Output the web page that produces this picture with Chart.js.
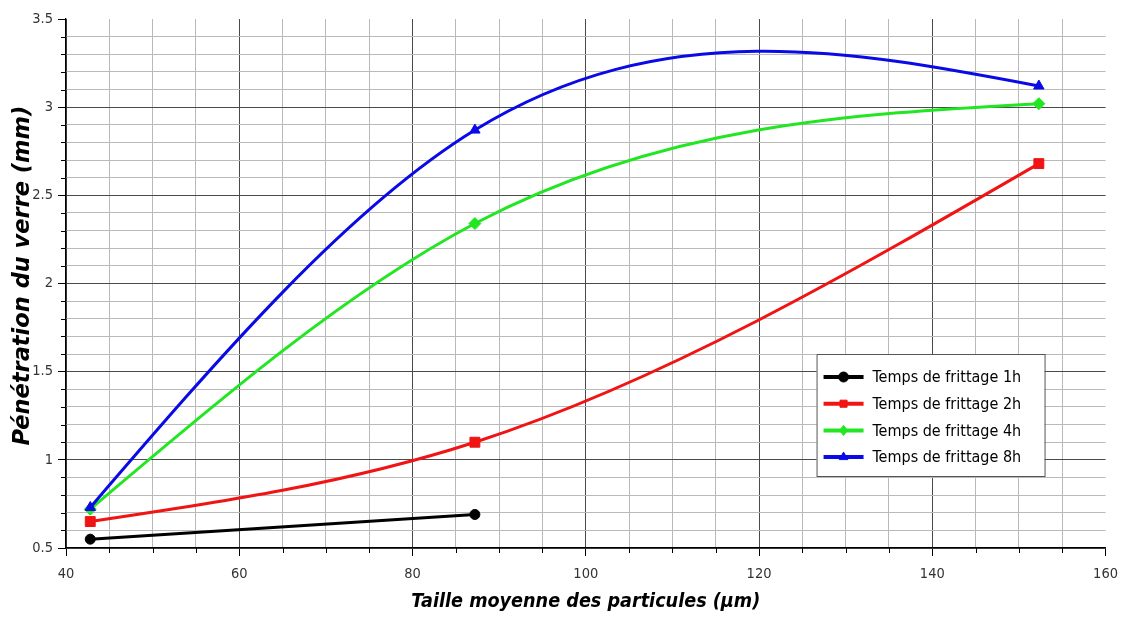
<!DOCTYPE html>
<html>
<head>
<meta charset="utf-8">
<title>Pénétration du verre</title>
<script src="https://cdn.jsdelivr.net/npm/chart.js@4.4.1/dist/chart.umd.min.js"></script>
<style>
  html, body { margin: 0; padding: 0; background: #ffffff; }
  #wrap { width: 1128px; height: 619px; position: relative; }
</style>
</head>
<body>
<div id="wrap"><canvas id="chart" width="1128" height="619"></canvas></div>
<script>
// Mean particle size (µm) for each measurement
const sizes = [42.8, 87.2, 152.3];
const sizes1h = [42.8, 87.2];

// Glass penetration depth (mm) for each sintering time
const pen1h = [0.55, 0.69];
const pen2h = [0.65, 1.10, 2.68];
const pen4h = [0.72, 2.34, 3.02];
const pen8h = [0.73, 2.87, 3.12];

const seriesLabels = [
  'Temps de frittage 1h',
  'Temps de frittage 2h',
  'Temps de frittage 4h',
  'Temps de frittage 8h'
];

// Labelled ticks on each axis
const xTickLabels = [40, 60, 80, 100, 120, 140, 160];
const yTickLabels = [0.5, 1, 1.5, 2, 2.5, 3, 3.5];

const xTitle = 'Taille moyenne des particules (µm)';
const yTitle = 'Pénétration du verre (mm)';

const FONT = "'DejaVu Sans Condensed', 'DejaVu Sans', sans-serif";
const WIDE_FONT = "'DejaVu Sans', sans-serif";
const MINOR = '#b9b9b9';
const MAJOR = '#4a4a4a';

const isXMajor = v => xTickLabels.some(t => Math.abs(t - v) < 1e-6);
const isYMajor = v => yTickLabels.some(t => Math.abs(t - v) < 1e-6);

const toPoints = (xs, ys) => xs.map((x, i) => ({ x: x, y: ys[i] }));

function series(label, xs, ys, color, style, radius, order) {
  return {
    label: label,
    data: toPoints(xs, ys),
    borderColor: color,
    backgroundColor: color,
    borderWidth: 3,
    pointStyle: style,
    pointRadius: radius,
    pointHoverRadius: radius,
    pointBackgroundColor: color,
    pointBorderColor: color,
    pointBorderWidth: 1,
    tension: 0.4,
    capBezierPoints: false,
    fill: false,
    order: order
  };
}

// First derivatives of a natural cubic spline through (xs, ys)
function naturalSlopes(xs, ys) {
  const n = xs.length;
  const h = [], s = [];
  for (let i = 0; i < n - 1; i++) {
    h.push(xs[i + 1] - xs[i]);
    s.push((ys[i + 1] - ys[i]) / h[i]);
  }
  const M = new Array(n).fill(0);
  if (n > 2) {
    const a = [], b = [], c = [], d = [];
    for (let i = 1; i < n - 1; i++) {
      a.push(h[i - 1]);
      b.push(2 * (h[i - 1] + h[i]));
      c.push(h[i]);
      d.push(6 * (s[i] - s[i - 1]));
    }
    const m = b.length;
    for (let i = 1; i < m; i++) {
      const w = a[i] / b[i - 1];
      b[i] -= w * c[i - 1];
      d[i] -= w * d[i - 1];
    }
    const sol = new Array(m);
    sol[m - 1] = d[m - 1] / b[m - 1];
    for (let i = m - 2; i >= 0; i--) sol[i] = (d[i] - c[i] * sol[i + 1]) / b[i];
    for (let i = 0; i < m; i++) M[i + 1] = sol[i];
  }
  const slopes = [];
  for (let i = 0; i < n - 1; i++) slopes.push(s[i] - h[i] * (2 * M[i] + M[i + 1]) / 6);
  slopes.push(s[n - 2] + h[n - 2] * (M[n - 2] + 2 * M[n - 1]) / 6);
  return slopes;
}

// Replace the line's bezier handles with those of a natural cubic spline
const naturalSpline = {
  id: 'naturalSpline',
  beforeDatasetDraw(chart, args) {
    const meta = args.meta;
    const line = meta.dataset;
    const pts = meta.data;
    if (!line || pts.length < 2) return;
    line.updateControlPoints(chart.chartArea, meta.indexAxis);
    const data = chart.data.datasets[args.index].data;
    const xv = data.map(p => p.x);
    const yv = data.map(p => p.y);
    const m = naturalSlopes(xv, yv);
    const xs = chart.scales.x, ys = chart.scales.y;
    for (let i = 0; i < pts.length - 1; i++) {
      const h = xv[i + 1] - xv[i];
      pts[i].cp2x = xs.getPixelForValue(xv[i] + h / 3);
      pts[i].cp2y = ys.getPixelForValue(yv[i] + m[i] * h / 3);
      pts[i + 1].cp1x = xs.getPixelForValue(xv[i + 1] - h / 3);
      pts[i + 1].cp1y = ys.getPixelForValue(yv[i + 1] - m[i + 1] * h / 3);
    }
  }
};

// Short extra ticks for the unlabelled steps
const minorTicks = {
  id: 'minorTicks',
  afterDraw(chart) {
    const { ctx } = chart;
    const xs = chart.scales.x, ys = chart.scales.y;
    ctx.save();
    ctx.strokeStyle = '#000';
    ctx.lineWidth = 1;
    xs.ticks.forEach(t => {
      if (isXMajor(t.value)) return;
      const px = Math.round(xs.getPixelForValue(t.value)) + 0.5;
      ctx.beginPath();
      ctx.moveTo(px, xs.top);
      ctx.lineTo(px, xs.top + 5);
      ctx.stroke();
    });
    ys.ticks.forEach(t => {
      if (isYMajor(t.value)) return;
      const py = Math.round(ys.getPixelForValue(t.value)) + 0.5;
      ctx.beginPath();
      ctx.moveTo(ys.right - 5, py);
      ctx.lineTo(ys.right, py);
      ctx.stroke();
    });
    ctx.restore();
  }
};

function drawMarker(ctx, style, radius, x, y, color) {
  ctx.save();
  ctx.fillStyle = color;
  ctx.strokeStyle = color;
  ctx.lineWidth = 1;
  ctx.beginPath();
  if (style === 'circle') {
    ctx.arc(x, y, radius, 0, Math.PI * 2);
  } else if (style === 'rect') {
    const s = radius * Math.SQRT1_2;
    ctx.rect(x - s, y - s, 2 * s, 2 * s);
  } else if (style === 'rectRot') {
    ctx.moveTo(x, y - radius);
    ctx.lineTo(x + radius * 0.8, y);
    ctx.lineTo(x, y + radius);
    ctx.lineTo(x - radius * 0.8, y);
    ctx.closePath();
  } else if (style === 'triangle') {
    const a = 2 * Math.PI / 3;
    ctx.moveTo(x, y - radius);
    ctx.lineTo(x + Math.sin(a) * radius, y - Math.cos(a) * radius);
    ctx.lineTo(x + Math.sin(2 * a) * radius, y - Math.cos(2 * a) * radius);
    ctx.closePath();
  }
  ctx.fill();
  ctx.stroke();
  ctx.restore();
}

// Boxed legend inside the lower right of the plot
const insideLegend = {
  id: 'insideLegend',
  afterDatasetsDraw(chart) {
    const { ctx, chartArea } = chart;
    const w = 228, h = 122;
    const x0 = chartArea.right - 289;
    const y0 = chartArea.bottom - 194;
    ctx.save();
    ctx.fillStyle = '#ffffff';
    ctx.fillRect(x0, y0, w, h);
    ctx.strokeStyle = '#555555';
    ctx.lineWidth = 1;
    ctx.strokeRect(x0 + 0.5, y0 + 0.5, w, h);
    ctx.font = '16px ' + FONT;
    ctx.textBaseline = 'middle';
    ctx.textAlign = 'left';
    chart.data.datasets.forEach((ds, i) => {
      const cy = y0 + 23 + i * 26.7;
      ctx.strokeStyle = ds.borderColor;
      ctx.lineWidth = 4;
      ctx.beginPath();
      ctx.moveTo(x0 + 7, cy);
      ctx.lineTo(x0 + 47, cy);
      ctx.stroke();
      drawMarker(ctx, ds.pointStyle, 5, x0 + 27, cy, ds.borderColor);
      ctx.fillStyle = '#000000';
      ctx.fillText(ds.label, x0 + 56, cy + 1);
    });
    ctx.restore();
  }
};

const chart = new Chart(document.getElementById('chart'), {
  type: 'line',
  data: {
    datasets: [
      series(seriesLabels[0], sizes1h, pen1h, '#000000', 'circle', 5, 4),
      series(seriesLabels[1], sizes, pen2h, '#f01414', 'rect', 7, 3),
      series(seriesLabels[2], sizes, pen4h, '#22e622', 'rectRot', 6, 2),
      series(seriesLabels[3], sizes, pen8h, '#0a0ae6', 'triangle', 6, 1)
    ]
  },
  options: {
    responsive: false,
    animation: false,
    devicePixelRatio: 1,
    layout: { padding: { top: 19, right: 18, left: 0, bottom: 0 } },
    plugins: {
      legend: { display: false },
      tooltip: { enabled: false },
      title: { display: false }
    },
    scales: {
      x: {
        type: 'linear',
        min: 40,
        max: 160,
        afterFit: s => { s.height = 71; },
        ticks: {
          stepSize: 5,
          autoSkip: false,
          maxRotation: 0,
          padding: 10,
          color: '#333333',
          font: { family: FONT, size: 14.5 },
          callback: v => (isXMajor(v) ? String(v) : '')
        },
        grid: {
          drawTicks: true,
          tickLength: 8,
          lineWidth: 1,
          color: c => {
            const v = c.tick.value;
            if (Math.abs(v - 160) < 1e-6) return 'rgba(0,0,0,0)';
            return isXMajor(v) ? MAJOR : MINOR;
          },
          tickColor: c => (isXMajor(c.tick.value) ? '#000000' : 'rgba(0,0,0,0)')
        },
        border: { display: true, color: '#000000', width: 1.3 },
        title: {
          display: true,
          text: xTitle,
          color: '#000000',
          font: { family: FONT, size: 19.6, weight: 'bold', style: 'italic' },
          padding: { top: 0, bottom: 5 }
        }
      },
      y: {
        type: 'linear',
        min: 0.5,
        max: 3.5,
        afterFit: s => { s.width = 66; },
        ticks: {
          stepSize: 0.1,
          autoSkip: false,
          padding: 5,
          color: '#333333',
          font: { family: FONT, size: 14.5 },
          callback: v => (isYMajor(v) ? String(Math.round(v * 10) / 10) : '')
        },
        grid: {
          drawTicks: true,
          tickLength: 8,
          lineWidth: 1,
          color: c => {
            const v = c.tick.value;
            if (Math.abs(v - 3.5) < 1e-6) return 'rgba(0,0,0,0)';
            return isYMajor(v) ? MAJOR : MINOR;
          },
          tickColor: c => (isYMajor(c.tick.value) ? '#000000' : 'rgba(0,0,0,0)')
        },
        border: { display: true, color: '#000000', width: 1.3 },
        title: {
          display: true,
          text: '  ' + yTitle,
          color: '#000000',
          font: { family: WIDE_FONT, size: 22.5, weight: 'bold', style: 'italic' },
          padding: { top: 10, bottom: 0 }
        }
      }
    }
  },
  plugins: [naturalSpline, minorTicks, insideLegend]
});
</script>
</body>
</html>
